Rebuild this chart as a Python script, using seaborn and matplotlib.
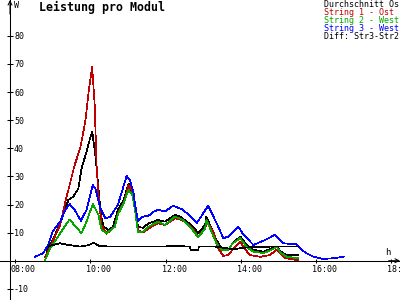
import matplotlib
matplotlib.use("Agg")
import matplotlib.pyplot as plt
import matplotlib.transforms as mtransforms
import seaborn as sns
import pandas as pd

# ---------------- data ----------------
series_names = ["Durchschnitt Os", "String 1 - Ost", "String 2 - West", "String 3 - West", "Diff: Str3-Str2"]
series_colors = ["#000000", "#c00000", "#00a800", "#0000ff", "#000000"]

avg_time = ["08:50", "08:53", "09:04", "09:15", "09:25", "09:33", "09:41", "09:46", "09:54", "09:59",
            "10:03", "10:08", "10:13", "10:17", "10:21", "10:29", "10:36", "10:44", "10:53", "11:01",
            "11:07", "11:12", "11:16", "11:24", "11:33", "11:48", "11:59", "12:15", "12:23", "12:41",
            "12:52", "13:03", "13:05", "13:21", "13:29", "13:40", "13:47", "13:59", "14:09", "14:20",
            "14:36", "14:49", "14:57", "15:04", "15:13", "15:31"]
avg_w = [2.7, 4.4, 9.2, 15.1, 21.6, 22.8, 25.7, 32.8, 38.8, 43.0,
         46.0, 37.6, 25.7, 16.3, 12.1, 10.9, 12.0, 18.1, 21.6, 27.5,
         23.4, 17.5, 12.1, 11.7, 13.3, 14.5, 13.9, 16.3, 15.7, 12.7,
         9.8, 12.7, 15.7, 7.4, 4.4, 3.9, 6.2, 8.6, 5.6, 3.9,
         3.2, 4.4, 4.9, 3.2, 2.0, 2.0]

s1_time = ["08:48", "08:56", "09:12", "09:19", "09:27", "09:35", "09:44", "09:52", "09:58", "10:03",
           "10:07", "10:10", "10:13", "10:18", "10:26", "10:39", "10:44", "10:53", "11:01", "11:06",
           "11:11", "11:16", "11:24", "11:33", "11:48", "11:59", "12:15", "12:26", "12:41", "12:52",
           "13:03", "13:06", "13:17", "13:24", "13:32", "13:40", "13:50", "13:59", "14:06", "14:14",
           "14:31", "14:46", "14:57", "15:02", "15:11", "15:31"]
s1_w = [1.4, 4.9, 12.7, 19.8, 26.9, 34.0, 40.1, 49.5, 61.4, 69.0,
        55.4, 34.0, 23.4, 12.7, 9.6, 12.1, 16.9, 20.5, 26.9, 25.1,
        19.2, 10.9, 10.0, 11.5, 13.3, 12.7, 15.1, 14.5, 12.1, 8.6,
        11.5, 13.9, 9.8, 4.4, 1.7, 2.0, 4.9, 6.7, 4.4, 2.0,
        1.4, 2.0, 3.9, 2.7, 0.9, 0.2]

s2_time = ["08:48", "08:56", "09:07", "09:17", "09:27", "09:39", "09:46", "09:54", "10:04", "10:13",
           "10:18", "10:26", "10:39", "10:44", "10:53", "11:01", "11:07", "11:11", "11:16", "11:24",
           "11:33", "11:48", "11:59", "12:15", "12:26", "12:41", "12:52", "13:03", "13:05", "13:21",
           "13:29", "13:40", "13:47", "13:59", "14:09", "14:20", "14:36", "14:49", "14:57", "15:04",
           "15:13", "15:31"]
s2_w = [0.2, 4.4, 8.0, 11.5, 14.7, 11.5, 9.8, 13.9, 20.2, 16.3,
        10.9, 9.8, 12.0, 16.5, 20.4, 25.3, 23.4, 18.4, 10.0, 10.4,
        12.1, 13.9, 12.7, 15.7, 14.7, 11.5, 8.3, 11.5, 14.5, 6.2,
        3.9, 3.9, 6.2, 8.0, 4.9, 3.2, 2.7, 3.9, 4.9, 2.7,
        1.4, 0.9]

s3_time = ["08:32", "08:45", "08:53", "09:00", "09:12", "09:19", "09:27", "09:35", "09:45", "09:54",
           "10:04", "10:08", "10:16", "10:24", "10:32", "10:44", "10:58", "11:03", "11:09", "11:11",
           "11:16", "11:24", "11:33", "11:41", "11:48", "11:59", "12:12", "12:28", "12:50", "13:08",
           "13:10", "13:22", "13:32", "13:40", "13:56", "14:04", "14:20", "14:39", "14:54", "15:08",
           "15:29", "15:37", "15:44", "15:56", "16:11", "16:28", "16:44"]
s3_w = [1.4, 2.7, 5.6, 10.4, 13.9, 17.5, 20.2, 18.1, 14.2, 18.1,
        26.9, 25.7, 18.6, 15.1, 15.7, 19.9, 30.2, 28.7, 24.0, 20.4,
        14.2, 15.7, 16.0, 17.5, 18.1, 17.5, 19.6, 18.1, 13.5, 19.6,
        18.6, 13.0, 8.0, 8.6, 12.1, 9.2, 5.6, 7.4, 9.2, 6.2,
        5.8, 3.9, 2.7, 1.4, 0.6, 0.9, 1.4]

diff_time = ["08:53", "09:00", "09:12", "09:25", "09:44", "09:58", "10:05", "10:15", "10:40", "11:03",
             "11:35", "12:23", "12:39", "12:40", "12:52", "12:53", "13:20", "13:47", "14:14", "14:46",
             "15:31"]
diff_w = [5.0, 5.6, 6.2, 5.6, 5.0, 5.6, 6.4, 5.2, 5.0, 5.0,
          5.0, 5.2, 5.0, 3.8, 3.8, 5.0, 5.0, 4.1, 4.8, 5.0,
          5.0]

x_ticks = [8, 10, 12, 14, 16, 18]
x_tick_labels = ["08:00", "10:00", "12:00", "14:00", "16:00", "18:00"]
y_ticks = [-10, 10, 20, 30, 40, 50, 60, 70, 80]
y_tick_labels = ["-10", "10", "20", "30", "40", "50", "60", "70", "80"]

title = "Leistung pro Modul"
y_unit = "W"
x_unit = "h"


def hours(s):
    h, m = s.split(":")
    return int(h) + int(m) / 60.0


# ---------------- build table ----------------
frames = []
for name, ts, ws in zip(series_names,
                        [avg_time, s1_time, s2_time, s3_time, diff_time],
                        [avg_w, s1_w, s2_w, s3_w, diff_w]):
    frames.append(pd.DataFrame({"t": [hours(s) for s in ts], "W": ws, "series": name}))
df = pd.concat(frames, ignore_index=True)

sns.set_style("white")
plt.rcParams["font.family"] = ["DejaVu Sans Mono", "DejaVu Sans"]

DPI = 100
fig = plt.figure(figsize=(4, 3), dpi=DPI)
fig.patch.set_facecolor("white")
ax = fig.add_axes([0, 0, 1, 1])
ax.set_facecolor("white")

palette = dict(zip(series_names, series_colors))
sns.lineplot(data=df, x="t", y="W", hue="series", hue_order=series_names,
             palette=palette, estimator=None, sort=False, legend=False,
             linewidth=0.5, ax=ax)
for ln in ax.lines:
    ln.set_antialiased(False)

# pixel mapping: x_px = 15 + (t-8)*37.65 ; y_px(top) = 260.7 - 2.81*v
x0 = 8 - 15 / 37.65
x1 = 8 + 385 / 37.65
y1 = 260.7 / 2.81
y0 = (260.7 - 300) / 2.81
ax.set_xlim(x0, x1)
ax.set_ylim(y0, y1)
ax.set_xlabel("")
ax.set_ylabel("")

spine_x = x0 + 10 / 37.65
for s in ["top", "right"]:
    ax.spines[s].set_visible(False)
ax.spines["left"].set_position(("data", spine_x))
ax.spines["bottom"].set_position(("data", 0))
for s in ["left", "bottom"]:
    ax.spines[s].set_color("black")
    ax.spines[s].set_linewidth(0.75)
    ax.spines[s].set_visible(True)

ax.set_xticks(x_ticks)
ax.set_xticklabels(x_tick_labels)
ax.set_yticks(y_ticks)
ax.set_yticklabels(y_tick_labels)
ax.tick_params(axis="x", direction="inout", length=3.5, width=0.75, color="black",
               labelsize=6, labelcolor="black", pad=1.5, bottom=True)
ax.tick_params(axis="y", direction="inout", length=4, width=0.75, color="black",
               labelsize=6, labelcolor="black", pad=0, left=True)

offx = mtransforms.ScaledTranslation(-4 / DPI, 0, fig.dpi_scale_trans)
for lab in ax.get_xticklabels():
    lab.set_horizontalalignment("left")
    lab.set_transform(lab.get_transform() + offx)
offy = mtransforms.ScaledTranslation(6.8 / DPI, 0, fig.dpi_scale_trans)
for lab in ax.get_yticklabels():
    lab.set_horizontalalignment("left")
    lab.set_transform(lab.get_transform() + offy)

# axis arrows
ax.annotate("", xy=(spine_x, y1), xytext=(spine_x, y1 - 5),
            arrowprops=dict(arrowstyle="->", color="black", lw=0.75,
                            shrinkA=0, shrinkB=0, mutation_scale=7),
            annotation_clip=False)
ax.annotate("", xy=(x1, 0), xytext=(x1 - 0.3, 0),
            arrowprops=dict(arrowstyle="->", color="black", lw=0.75,
                            shrinkA=0, shrinkB=0, mutation_scale=7),
            annotation_clip=False)


def ftext(xp, yp_baseline, s, **kw):
    fig.text(xp / 400, 1 - yp_baseline / 300, s, va="baseline", ha="left", **kw)


ftext(39, 10.7, title, fontsize=8.4, fontweight="bold", color="black")
ftext(14, 8, y_unit, fontsize=6, color="black")
ftext(385, 255, x_unit, fontsize=6.5, color="black")

leg_base = [7.0, 15.1, 23.2, 31.2, 39.3]
for name, col, yb in zip(series_names, series_colors, leg_base):
    ftext(324, yb, name, fontsize=6, color=col)

fig.savefig("out.png", dpi=DPI, facecolor="white")
